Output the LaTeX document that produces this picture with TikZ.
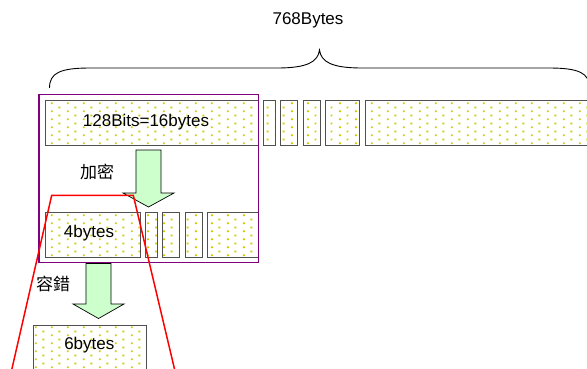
\documentclass[tikz,border=0pt]{standalone}
\usepackage{fontspec}
\setmainfont{Liberation Sans}
\newfontfamily\cjk{Noto Sans CJK TC}
\usetikzlibrary{patterns.meta}
\definecolor{dotc}{HTML}{CCCC00}
\definecolor{boxb}{HTML}{505050}
\definecolor{arrowg}{HTML}{CCFFCC}
\definecolor{purp}{HTML}{800080}
\tikzdeclarepattern{
  name=ydots,
  type=uncolored,
  bounding box={(0pt,0pt) and (16pt,8pt)},
  tile size={(16pt,8pt)},
  code={\fill (3pt,1pt) rectangle (5pt,3pt);
        \fill (11pt,5pt) rectangle (13pt,7pt);}
}
\tikzset{
  databox/.style={draw=boxb, line width=0.9pt, pattern={ydots}, pattern color=dotc, inner sep=0pt, anchor=north west, minimum height=45pt},
  lbl/.style={font=\fontsize{17}{20}\selectfont, inner sep=0pt},
  cjklbl/.style={font=\cjk\fontsize{17}{20}\selectfont, inner sep=0pt},
  garrow/.style={draw=black, line width=0.7pt, fill=arrowg, line join=miter},
  redline/.style={draw=red, line width=1.5pt},
  purpbox/.style={draw=purp, line width=1.2pt},
  bracesty/.style={draw=black, line width=0.9pt}
}
\begin{document}
\begin{tikzpicture}[x=1pt,y=-1pt]
\useasboundingbox (0,0) rectangle (587,368);
\clip (0,0) rectangle (587,368);
% title
\node[lbl] (title) at (308,20) {768Bytes};
% brace
\draw[bracesty] (49.5,88) .. controls (49.5,73) and (60,68) .. (90,68) -- (277,68)
  .. controls (307,68) and (318,62) .. (319.5,50)
  .. controls (321,62) and (332,68) .. (362,68) -- (549,68)
  .. controls (579,68) and (589.5,73) .. (589.5,88);
% top row
\node[databox, minimum width=213pt] (b1) at (45,100) {};
\node[databox, minimum width=12pt] (b2) at (263.3,100) {};
\node[databox, minimum width=17pt] (b3) at (280.3,100) {};
\node[databox, minimum width=17.3pt] (b4) at (302.7,100) {};
\node[databox, minimum width=34pt] (b5) at (325.3,100) {};
\node[databox, minimum width=240pt] (b6) at (364.7,100) {};
\node[lbl] (t1) at (146,122) {128Bits=16bytes};
% bottom row
\node[databox, minimum width=95.3pt] (c1) at (44.7,211.7) {};
\node[databox, minimum width=12pt] (c2) at (145.3,211.7) {};
\node[databox, minimum width=17pt] (c3) at (162.3,211.7) {};
\node[databox, minimum width=17.3pt] (c4) at (184.7,211.7) {};
\node[databox, minimum width=51.3pt] (c5) at (207,211.7) {};
\node[lbl] (t2) at (89,233) {4bytes};
% purple frame
\draw[purpbox] (39,94.5) rectangle (258.5,262.7);
% arrow 1
\draw[garrow] (136,150) -- (161,150) -- (161,193) -- (174,193) -- (148.5,207) -- (123,193) -- (136,193) -- cycle;
\node[cjklbl] (enc) at (97,172) {加密};
% arrow 2
\draw[garrow] (86,263.5) -- (111,263.5) -- (111,304) -- (124,304) -- (98.5,318.5) -- (73,304) -- (86,304) -- cycle;
\node[cjklbl] (ecc) at (53,283.5) {容錯};
% 6bytes box
\node[databox, minimum width=112.4pt, minimum height=60pt] (d1) at (33.3,325) {};
\node[lbl] (t3) at (89.3,345) {6bytes};
% red trapezoid
\draw[redline] (11.2,372) -- (51.7,195.3) -- (133.3,195.3) -- (175.2,372);
\end{tikzpicture}
\end{document}
